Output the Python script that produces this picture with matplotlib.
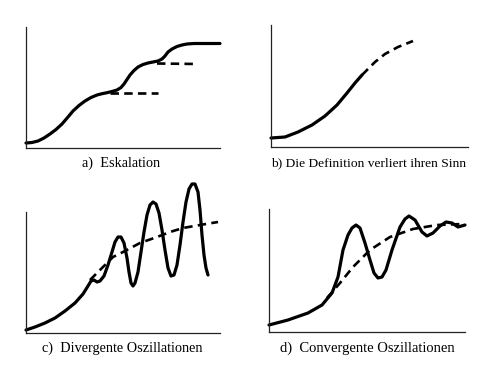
import matplotlib
matplotlib.use("Agg")
import matplotlib.pyplot as plt

# panel a) Eskalation
a_x = [0, 6, 12, 18, 24, 30, 36, 42, 47, 53, 59, 65, 71, 76, 81, 86, 91, 95, 98,
       101, 104, 108, 112, 117, 122, 127, 132, 136, 139, 142, 146, 151, 156, 161,
       168, 178, 194]
a_y = [5, 5.5, 7, 10, 14, 18.5, 24, 31, 37, 42.5, 47, 50.5, 53, 54.3, 55.3, 56.5,
       58, 60.5, 64, 68.5, 73, 77.5, 81, 83.5, 85, 86, 87, 89, 92, 96, 99, 101.5,
       103, 104, 104.5, 104.5, 104.5]
a_dash1_x = [84, 132]
a_dash1_y = [55.5, 55.5]
a_dash2_x = [131, 171]
a_dash2_y = [84.5, 84]

# panel b) Die Definition verliert ihren Sinn
b_x = [0, 14, 27, 41, 54, 66, 76, 84, 91]
b_y = [9, 10, 15, 22, 31, 42, 54, 64, 72]
b_dash_x = [91, 94, 104, 114, 127, 142]
b_dash_y = [72, 75, 85, 93, 100, 106]

# panel c) Divergente Oszillationen
c_x = [0, 9, 19, 29, 39, 49, 57, 62, 65, 68, 71, 74, 78, 82, 86, 89, 92, 95, 98,
       101, 103, 105, 107, 109, 112, 115, 118, 121, 124, 127, 130, 133, 136, 139,
       142, 145, 148, 151, 154, 157, 160, 163, 166, 169, 172, 174, 176, 178, 180,
       182]
c_y = [3, 6, 10, 15, 22, 30, 39, 47, 52, 53, 51, 52, 57, 68, 81, 91, 96, 96, 90,
       75, 61, 50, 47, 50, 61, 81, 101, 118, 128, 131, 129, 120, 103, 83, 65, 57,
       58, 68, 88, 111, 131, 144, 149, 149, 141, 123, 98, 78, 65, 58]
c_dash_x = [64, 74, 87, 99, 114, 131, 144, 157, 174, 192]
c_dash_y = [53, 63, 76, 82, 90, 96, 101, 105, 108, 111]

# panel d) Convergente Oszillationen
d_x = [0, 19, 39, 53, 63, 69, 74, 79, 83, 87, 91, 96, 101, 105, 109, 113, 117,
       123, 131, 136, 140, 146, 153, 158, 164, 171, 177, 183, 189, 196]
d_y = [7, 12, 19, 27, 39, 55, 82, 97, 104, 107, 104, 89, 72, 59, 54, 55, 62, 82,
       105, 113, 116, 112, 100, 96, 99, 106, 110, 109, 105, 107]
d_dash_x = [58, 71, 84, 101, 121, 144, 168, 194]
d_dash_y = [34, 49, 65, 82, 95, 103, 107, 108]

captions = ["a)  Eskalation", "b) Die Definition verliert ihren Sinn",
            "c)  Divergente Oszillationen", "d)  Convergente Oszillationen"]

W, H = 500, 374
# axes boxes in pixels: left, top, right, bottom
boxes = [(26, 27, 220, 148), (271, 25, 468, 147),
         (26, 212, 220, 333), (269, 209, 465, 332)]
cap_pos = [(121, 163, 10.3), (369, 163, 9.7), (122, 348, 10.3), (367, 348, 10.5)]

fig = plt.figure(figsize=(W / 100, H / 100), dpi=100)
fig.patch.set_facecolor("white")

axes = []
for (l, t, r, b) in boxes:
    ax = fig.add_axes([l / W, 1 - b / H, (r - l) / W, (b - t) / H])
    ax.set_xlim(0, r - l)
    ax.set_ylim(0, b - t)
    for s in ["top", "right"]:
        ax.spines[s].set_visible(False)
    for s in ["left", "bottom"]:
        ax.spines[s].set_linewidth(0.9)
        ax.spines[s].set_color("#222222")
    ax.set_xticks([])
    ax.set_yticks([])
    ax.patch.set_alpha(0)
    axes.append(ax)

solid = dict(color="black", lw=2.3, solid_capstyle="round",
             solid_joinstyle="round", clip_on=False)
dashed = dict(color="black", lw=1.9, linestyle=(0, (3.2, 2.0)), clip_on=False)

axes[0].plot(a_x, a_y, **solid)
axes[0].plot(a_dash1_x, a_dash1_y, **dashed)
axes[0].plot(a_dash2_x, a_dash2_y, **dashed)

axes[1].plot(b_x, b_y, **solid)
axes[1].plot(b_dash_x, b_dash_y, **dashed)

axes[2].plot(c_x, c_y, **solid)
axes[2].plot(c_dash_x, c_dash_y, **dashed)

axes[3].plot(d_x, d_y, **solid)
axes[3].plot(d_dash_x, d_dash_y, **dashed)

for txt, (cx, cy, fs) in zip(captions, cap_pos):
    fig.text(cx / W, 1 - cy / H, txt, ha="center", va="center",
             fontsize=fs, family="Liberation Serif", color="black")

fig.savefig("out.png", dpi=100, facecolor="white")
